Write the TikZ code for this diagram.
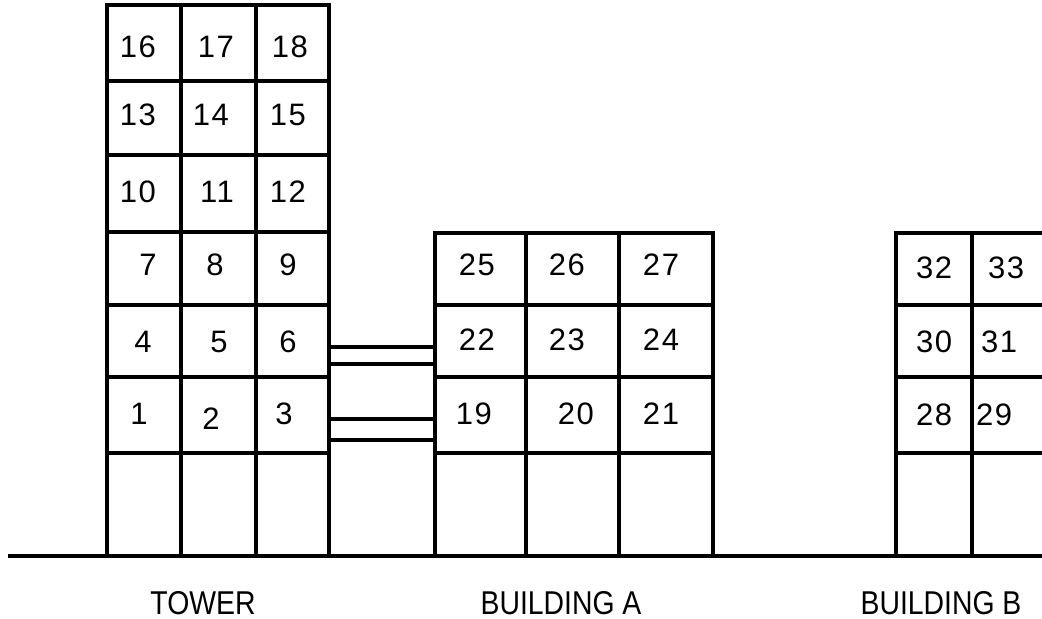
\documentclass[tikz,border=0pt]{standalone}
\usepackage{fontspec}
\setmainfont{Liberation Sans}
\newfontfamily\numfont[LetterSpace=5]{Liberation Sans}
\newfontfamily\capfont[FakeStretch=0.86]{Liberation Sans}
\usetikzlibrary{positioning}
\tikzset{
  wall/.style={line width=1.8pt, line join=miter},
  num/.style={font=\numfont\fontsize{15.5}{17}\selectfont, inner sep=0pt},
  caption/.style={font=\capfont\fontsize{16.5}{18}\selectfont, inner sep=0pt},
}

\begin{document}
\begin{tikzpicture}[x=0.5pt, y=-0.5pt]
    \useasboundingbox (0,0) rectangle (1042,619);

    % ground
    \draw[wall] (8,556) -- (1042,556);

    % tower
    \draw[wall] (107,556) |- (329,5) -- (329,556);
    \foreach \x in {181,256} \draw[wall] (\x,5) -- (\x,556);
    \foreach \y in {81,155,232,305,377,453} \draw[wall] (107,\y) -- (329,\y);

    % building A
    \draw[wall] (435,556) |- (713,233) -- (713,556);
    \foreach \x in {526,619} \draw[wall] (\x,233) -- (\x,556);
    \foreach \y in {305,377,453} \draw[wall] (435,\y) -- (713,\y);

    % building B
    \draw[wall] (896,556) |- (1042,233);
    \draw[wall] (972,233) -- (972,556);
    \foreach \y in {305,377,453} \draw[wall] (896,\y) -- (1042,\y);

    % bridges
    \foreach \y in {347,364,419,440} \draw[wall] (329,\y) -- (435,\y);

    % floor numbers
    \foreach \n/\x/\y in {16/138/47, 17/216/47, 18/290/47,
                          13/138/115, 14/211/115, 15/288/115,
                          10/138/192, 11/217/192, 12/288/192,
                          7/148/265, 8/215/265, 9/288/265,
                          4/143/342, 5/219/342, 6/288/342,
                          1/139/414, 2/211/419, 3/284/414,
                          25/477/265, 26/567/265, 27/661/265,
                          22/477/340, 23/567/340, 24/661/340,
                          19/474/414, 20/576/414, 21/661/414,
                          32/934/268, 33/1006/268,
                          30/934/342, 31/999/342,
                          28/934/415, 29/994/415}
        \node[num] (n\n) at (\x,\y) {\n};

    % building names
    \node[caption] (tower) at (203,603) {TOWER};
    \node[caption] (bldga) at (561,603) {BUILDING A};
    \node[caption] (bldgb) at (941,603) {BUILDING B};
\end{tikzpicture}
\end{document}
